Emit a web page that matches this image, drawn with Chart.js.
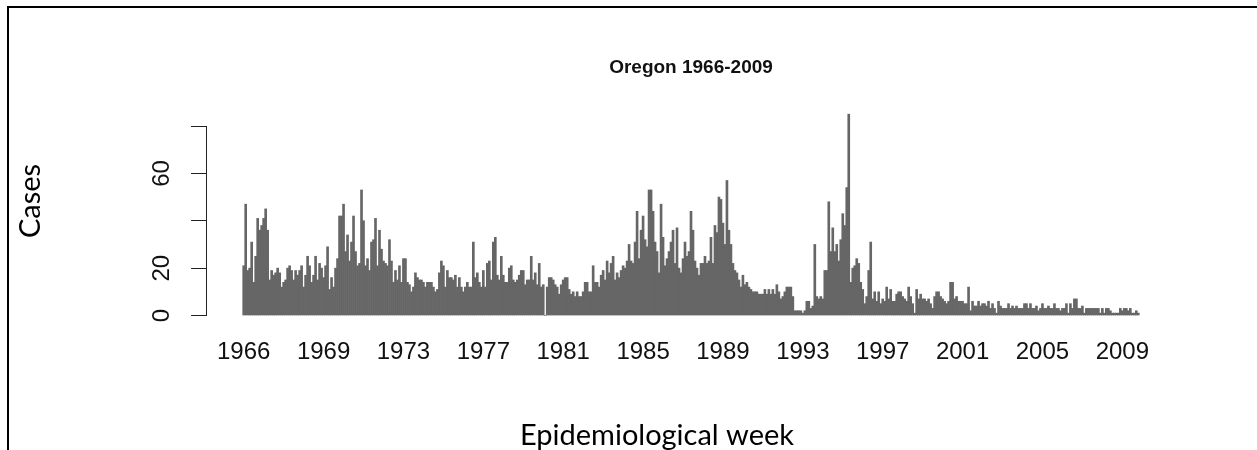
<!DOCTYPE html>
<html>
<head>
<meta charset="utf-8">
<script src="https://cdn.jsdelivr.net/npm/chart.js@4.4.1/dist/chart.umd.min.js"></script>
<style>
  html, body { margin: 0; padding: 0; background: #fff; }
  #wrap { position: relative; width: 1257px; height: 450px; overflow: hidden; }
  #frame { position: absolute; left: 7px; top: 6px; right: -10px; bottom: -10px;
           border-left: 2px solid #000; border-top: 2px solid #000; }
  canvas { position: absolute; left: 0; top: 0; }
</style>
</head>
<body>
<div id="wrap">
  <canvas id="chart" width="1257" height="450"></canvas>
  <div id="frame"></div>
</div>
<script>
// Oregon weekly cases, 1966-2009 (each bar ~5 epidemiological weeks)

const cases1966_70 = [21, 47, 19, 20, 31, 14, 25, 41, 36, 38, 41, 45, 36, 15, 19, 17, 18, 20, 18, 12,
                      14, 15, 20, 21, 19, 15, 19, 17, 19, 21, 12, 17, 25, 21, 14, 17, 25, 15, 22, 20,
                      16, 21, 29, 11, 16, 12, 20, 24, 42];
const cases1970_77 = [42, 47, 27, 34, 23, 31, 42, 27, 21, 22, 53, 40, 21, 24, 19, 31, 32, 41, 21, 36,
                      28, 23, 22, 21, 32, 23, 14, 19, 15, 21, 14, 24, 24, 14, 13, 10, 12, 18, 16, 15,
                      15, 14, 12, 14, 14, 14, 12, 10, 11, 18, 23, 21, 12, 19, 16, 16, 15, 17, 12, 16,
                      12, 10, 12, 14, 12, 12, 31, 16, 18, 14, 12, 19, 12, 22, 23];
const cases1978_84 = [15, 31, 33, 17, 15, 25, 17, 14, 14, 20, 21, 15, 14, 15, 17, 19, 19, 13, 15, 15,
                      25, 15, 18, 13, 22, 12, 13, 0, 12, 16, 16, 15, 13, 12, 9, 13, 15, 16, 16, 11,
                      9, 10, 8, 10, 8, 8, 10, 14, 14, 10, 10, 21, 14, 14, 12, 17, 19, 15, 23, 18,
                      22, 25, 15, 18, 16, 19, 21, 20, 23, 30, 23, 22, 31, 44, 24];
const cases1985_92 = [36, 42, 32, 29, 53, 53, 44, 31, 27, 18, 47, 33, 21, 24, 27, 31, 36, 22, 37, 20,
                      18, 24, 31, 25, 27, 44, 36, 23, 20, 17, 22, 22, 25, 22, 23, 33, 22, 38, 35, 50,
                      49, 39, 30, 57, 36, 30, 22, 19, 18, 15, 12, 17, 13, 14, 12, 11, 10, 10, 10, 9,
                      9, 9, 11, 9, 11, 9, 11, 9, 13, 10, 7, 8, 10, 12, 12];
const cases1992_99 = [12, 8, 2, 2, 2, 2, 1, 2, 6, 6, 3, 4, 30, 8, 7, 8, 7, 19, 19, 48,
                      27, 37, 27, 30, 23, 32, 43, 38, 54, 85, 14, 20, 21, 24, 22, 14, 11, 5, 8, 19,
                      31, 7, 10, 6, 10, 5, 7, 6, 12, 7, 11, 6, 6, 9, 10, 10, 8, 7, 6, 12,
                      8, 5, 1, 11, 7, 9, 7, 7, 6, 7, 5, 3, 8, 10, 10];
const cases1999_06 = [8, 7, 6, 5, 6, 14, 14, 7, 8, 6, 6, 6, 5, 5, 12, 2, 6, 4, 4, 6,
                      4, 5, 5, 4, 6, 3, 5, 3, 1, 6, 4, 3, 3, 3, 5, 3, 4, 3, 4, 3,
                      3, 3, 5, 5, 3, 5, 3, 3, 4, 2, 3, 5, 3, 3, 4, 3, 3, 5, 3, 3,
                      2, 3, 3, 5, 1, 5, 3, 7, 7, 3, 3, 4, 1, 3, 3];
const cases2006_09 = [3, 3, 3, 3, 3, 1, 3, 1, 3, 3, 2, 1, 1, 1, 1, 3, 2, 3, 3, 2,
                      3, 1, 1, 2, 1];

const cases = [...cases1966_70, ...cases1970_77, ...cases1978_84, ...cases1985_92,
               ...cases1992_99, ...cases1999_06, ...cases2006_09];

const yearTicks = ['1966', '1969', '1973', '1977', '1981', '1985', '1989', '1993', '1997', '2001', '2005', '2009'];
const tickEvery = 40;          // bars between year labels
const yShown    = [0, 20, 60]; // R drops the 40 and 80 labels
const yMax      = 80;
const yStep     = 20;

const titleText = 'Oregon 1966-2009';
const xTitle    = 'Epidemiological week';
const yTitle    = 'Cases';

const barGray = '#666666';
const ink     = '#111111';

// title + outer axis titles
const outerText = {
    id: 'outerText',
    afterDraw(chart) {
        const { ctx, scales: { x } } = chart;
        ctx.save();
        ctx.fillStyle = ink;
        ctx.textAlign = 'center';
        ctx.textBaseline = 'middle';
        ctx.font = 'bold 19px "Liberation Sans", Arial, sans-serif';
        ctx.fillText(titleText, x.getPixelForValue((cases.length - 1) / 2), 68);
        ctx.fillStyle = '#000';
        ctx.font = '29px Lato, sans-serif';
        ctx.fillText(xTitle, 657, 436);
        ctx.translate(31, 201);
        ctx.rotate(-Math.PI / 2);
        ctx.fillText(yTitle, 0, 0);
        ctx.restore();
    }
};

new Chart(document.getElementById('chart'), {
    type: 'bar',
    data: {
        datasets: [{
            data: cases.map((v, i) => ({ x: i, y: v })),
            backgroundColor: barGray,
            borderWidth: 0,
            barPercentage: 1,
            categoryPercentage: 1,
            clip: false,
        }]
    },
    options: {
        responsive: false,
        animation: false,
        events: [],
        layout: { padding: { left: 0, right: 117.7, top: 126, bottom: 0 } },
        plugins: {
            legend: { display: false },
            tooltip: { enabled: false },
        },
        scales: {
            x: {
                type: 'linear',
                offset: false,
                min: -18.88,
                max: cases.length - 0.5,
                grid: { display: false, drawTicks: false },
                border: { display: false },
                afterBuildTicks: s => { s.ticks = yearTicks.map((_, k) => ({ value: k * tickEvery })); },
                afterFit: s => { s.height = 134.5; },
                ticks: {
                    autoSkip: false,
                    maxRotation: 0,
                    padding: 22,
                    color: ink,
                    font: { family: '"Liberation Sans", Arial, sans-serif', size: 24 },
                    callback: v => yearTicks[Math.round(v / tickEvery)],
                }
            },
            y: {
                min: 0,
                max: yMax,
                afterFit: s => { s.width = 206; },
                grid: { drawOnChartArea: false, drawTicks: true, tickLength: 15, color: '#222' },
                border: { display: true, color: '#222', width: 1 },
                ticks: {
                    stepSize: yStep,
                    minRotation: 90,
                    maxRotation: 90,
                    crossAlign: 'center',
                    padding: 15,
                    color: ink,
                    font: { family: '"Liberation Sans", Arial, sans-serif', size: 24 },
                    callback: v => yShown.includes(v) ? String(v) : '',
                }
            }
        }
    },
    plugins: [outerText]
});
</script>
</body>
</html>
